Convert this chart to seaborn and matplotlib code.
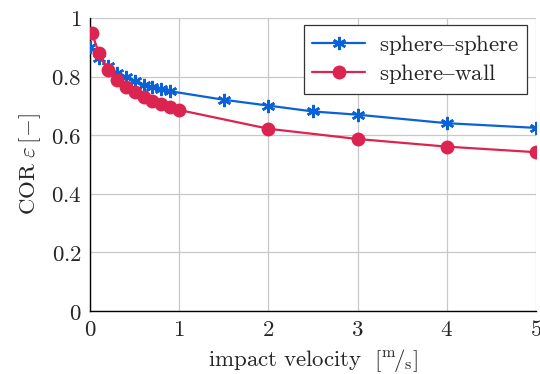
import matplotlib
matplotlib.use("Agg")
import matplotlib.pyplot as plt
import seaborn as sns
import pandas as pd
from matplotlib.ticker import FuncFormatter

# data
ss_v = [0.0, 0.1, 0.2, 0.3, 0.4, 0.5, 0.6, 0.7, 0.8, 0.9, 1.5, 2.0, 2.5, 3.0, 4.0, 5.0]
ss_cor = [0.902, 0.865, 0.835, 0.812, 0.800, 0.784, 0.773, 0.764, 0.759, 0.750, 0.721, 0.701, 0.681, 0.670, 0.641, 0.625]
sw_v = [0.02, 0.1, 0.2, 0.3, 0.4, 0.5, 0.6, 0.7, 0.8, 0.9, 1.0, 2.0, 3.0, 4.0, 5.0]
sw_cor = [0.950, 0.880, 0.823, 0.790, 0.765, 0.747, 0.732, 0.718, 0.705, 0.697, 0.686, 0.622, 0.587, 0.561, 0.542]
labels = ["sphere–sphere", "sphere–wall"]
xticks = [0, 1, 2, 3, 4, 5]
yticks = [0, 0.2, 0.4, 0.6, 0.8, 1.0]

sns.set_style("white")
plt.rcParams["mathtext.fontset"] = "cm"
plt.rcParams["font.family"] = ["DejaVu Serif"]

FS = 16.5

fig = plt.figure(figsize=(5.4, 3.74), dpi=100)
ax = fig.add_axes([90 / 540, 63 / 374, 446 / 540, 293 / 374])

blue = "#0a62d8"
red = "#dc2450"

df1 = pd.DataFrame({"v": ss_v, "cor": ss_cor})
df2 = pd.DataFrame({"v": sw_v, "cor": sw_cor})
sns.lineplot(data=df1, x="v", y="cor", ax=ax, color=blue, lw=1.6,
             marker=(6, 2, 0), markersize=9.5, markeredgewidth=1.8,
             markeredgecolor=blue, label=r"$\mathrm{" + labels[0] + "}$", zorder=3)
sns.lineplot(data=df2, x="v", y="cor", ax=ax, color=red, lw=1.6,
             marker="o", markersize=10, markeredgewidth=0,
             label=r"$\mathrm{" + labels[1] + "}$", zorder=3)

ax.set_xlim(0, 5)
ax.set_ylim(0, 1)
ax.set_xticks(xticks)
ax.set_yticks(yticks)
fmt = FuncFormatter(lambda v, p: r"$%g$" % v)
ax.xaxis.set_major_formatter(fmt)
ax.yaxis.set_major_formatter(fmt)
ax.tick_params(axis="both", labelsize=FS, length=0, pad=6)
ax.grid(True, color="#c8c8c8", lw=0.9)
ax.set_axisbelow(True)
for s in ["top", "right"]:
    ax.spines[s].set_visible(False)
for s in ["left", "bottom"]:
    ax.spines[s].set_color("black")
    ax.spines[s].set_linewidth(1.0)

ax.set_xlabel(r"$\mathrm{impact\ velocity}\ \ [^{\mathrm{m}}\!/_{\mathrm{s}}]$", fontsize=FS, labelpad=4)
ax.set_ylabel(r"$\mathrm{COR}\ \varepsilon\,[-]$", fontsize=FS, labelpad=6)

leg = ax.legend(loc="upper right", bbox_to_anchor=(0.98, 0.976), borderaxespad=0,
                fontsize=FS, frameon=True, fancybox=False, edgecolor="#333333",
                framealpha=1, handlelength=2.3, handletextpad=0.6, borderpad=0.35,
                labelspacing=0.2)
leg.get_frame().set_linewidth(0.9)

fig.savefig("out.png", dpi=100)
